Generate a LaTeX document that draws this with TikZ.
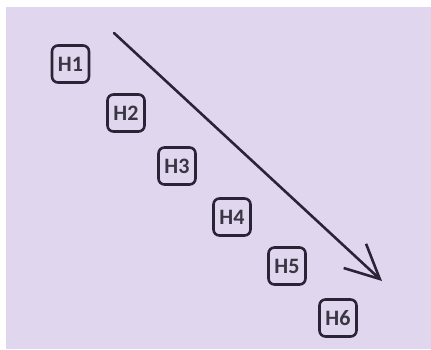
\documentclass[tikz,border=0pt]{standalone}
\usepackage{fontspec}
\setmainfont{Carlito}
\usetikzlibrary{arrows.meta}
\definecolor{bg}{HTML}{E0D7EF}
\definecolor{ink}{HTML}{2B2436}
\definecolor{txt}{HTML}{3A3542}
\tikzset{
  hbox/.style={draw=ink, line width=2.6pt, rounded corners=6pt, minimum width=37pt, minimum height=37pt,
    inner sep=0pt, font=\fontsize{22}{22}\selectfont\bfseries, text=txt},
}
\begin{document}
\begin{tikzpicture}[x=1pt,y=-1pt]
\useasboundingbox (0,0) rectangle (431,349);
\fill[white] (0,0) rectangle (431,349);
\fill[bg] (6,7) rectangle (431,349);
\node[hbox] (h1) at (70.5,64) {H1};
\node[hbox] (h2) at (126,113) {H2};
\node[hbox] (h3) at (177,166) {H3};
\node[hbox] (h4) at (232,217) {H4};
\node[hbox] (h5) at (287,266) {H5};
\node[hbox] (h6) at (338,318) {H6};
\coordinate (a0) at (114,33);
\coordinate (a1) at (382,281);
\draw[ink, line width=2.6pt, line cap=round, -{Straight Barb[length=34pt,width=33pt,line width=2.6pt]}] (a0) -- (a1);
\end{tikzpicture}
\end{document}
